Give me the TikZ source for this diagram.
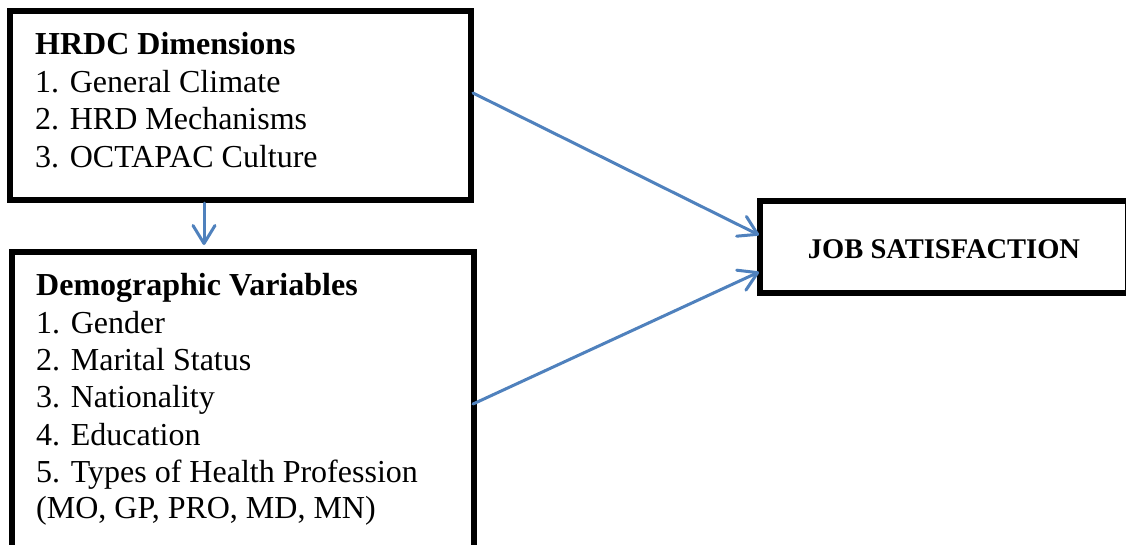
\documentclass[tikz,border=0pt]{standalone}
\usepackage{fontspec}
\setmainfont{Liberation Serif}
\usetikzlibrary{arrows.meta}
\definecolor{arrblue}{HTML}{4F81BD}
\begin{document}
\begin{tikzpicture}[x=1pt,y=-1pt,
 box/.style={draw, line width=5.5pt, rectangle, inner sep=0pt, outer sep=0pt, anchor=north west},
 arr/.style={draw=arrblue, line width=3pt, line cap=round, -{Straight Barb[length=18pt,width=22pt,line cap=round,line join=round]}},
 txt/.style={anchor=base west, inner sep=0pt, font=\fontsize{32}{37.4}\selectfont},
 jtxt/.style={inner sep=0pt, font=\fontsize{28.5}{34}\selectfont\bfseries}]
\useasboundingbox (0,0) rectangle (1126,544);
\clip (0,0) rectangle (1126,544);
\fill[white] (0,0) rectangle (1126,544);
\node[box, minimum width=461pt, minimum height=189pt] (b1) at (10,11) {};
\node[box, minimum width=462pt, minimum height=318pt] (b2) at (12,252) {};
\node[box, minimum width=368pt, minimum height=92pt] (b3) at (760,201) {};
\node[txt] (t10) at (35,54) {\textbf{HRDC Dimensions}};
\node[txt] (t11) at (35,92) {1. General Climate};
\node[txt] (t12) at (35,129) {2. HRD Mechanisms};
\node[txt] (t13) at (35,167) {3. OCTAPAC Culture};
\node[txt] (t20) at (36,295) {\textbf{Demographic Variables}};
\node[txt] (t21) at (36,333) {1. Gender};
\node[txt] (t22) at (36,370) {2. Marital Status};
\node[txt] (t23) at (36,407) {3. Nationality};
\node[txt] (t24) at (36,445) {4. Education};
\node[txt] (t25) at (36,482) {5. Types of Health Profession};
\node[txt] (t26) at (36,518) {(MO, GP, PRO, MD, MN)};
\node[jtxt] (t3) at ([yshift=-2pt]b3.center) {JOB SATISFACTION};
\coordinate (dx) at (204,0);
\draw[arr] ([yshift=-3pt]b1.south -| dx) -- ([yshift=7pt]b2.north -| dx);
\draw[arr] ([xshift=2pt,yshift=12.5pt]b1.east) -- ([xshift=-1pt,yshift=12pt]b3.west);
\draw[arr] ([xshift=-1pt,yshift=7pt]b2.east) -- ([xshift=-1pt,yshift=-25pt]b3.west);
\end{tikzpicture}
\end{document}
